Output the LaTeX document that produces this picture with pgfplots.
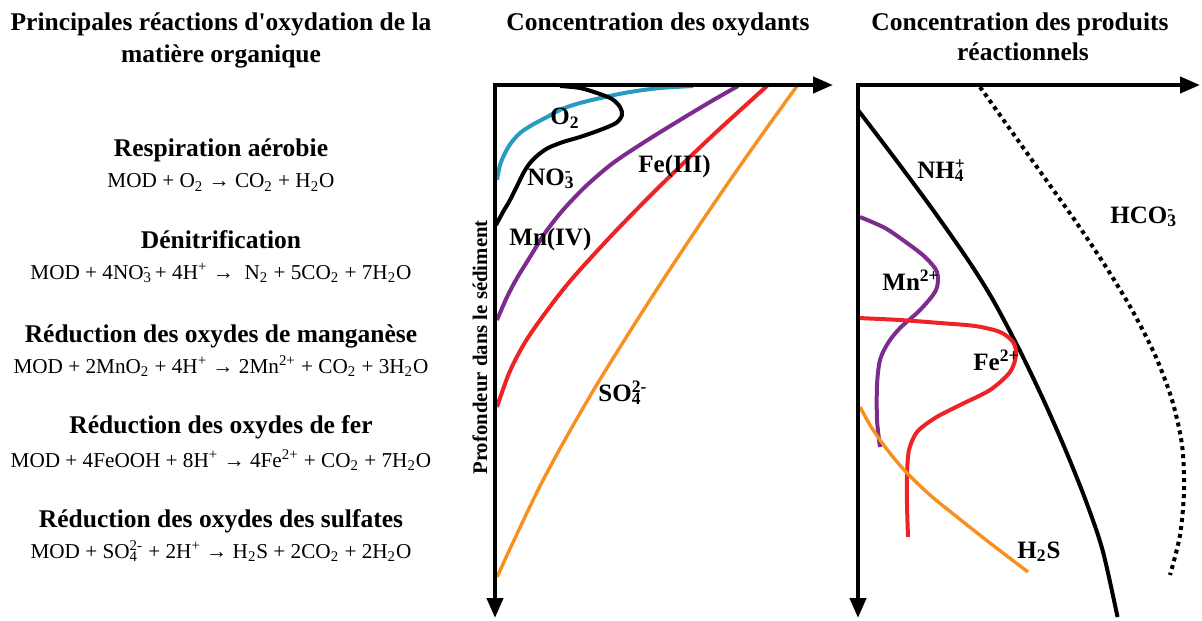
\documentclass[border=0pt]{standalone}
\usepackage{fontspec}
\setmainfont{Liberation Serif}
\usepackage{pgfplots}
\pgfplotsset{compat=1.18}
\usetikzlibrary{arrows.meta}
\definecolor{cBlue}{HTML}{2A9BC0}
\definecolor{cPurple}{HTML}{7B2C8C}
\definecolor{cRed}{HTML}{EE2326}
\definecolor{cOrange}{HTML}{F7901E}
\newcommand{\sub}[1]{\textsubscript{#1}}
\newcommand{\sups}[1]{\textsuperscript{#1}}
\newcommand{\sbsp}[2]{\rlap{\textsubscript{#1}}\textsuperscript{#2}}
\newcommand{\hfont}{\bfseries\fontsize{12.75}{15}\selectfont}
\newcommand{\efont}{\fontsize{10.6}{13}\selectfont}
\newcommand{\lfont}{\bfseries\fontsize{12.5}{15}\selectfont}
\tikzset{ax/.style={line width=2pt, line join=miter, {Triangle[length=10pt,width=8pt]}-{Triangle[length=10pt,width=8pt]}},
  crv/.style={smooth, line width=2pt, no markers}}
\begin{document}
\begin{tikzpicture}
\useasboundingbox (0,0) rectangle (601pt,-310pt);
% ---------- middle axis: oxidants ----------
\begin{axis}[at={(247.5pt,-309pt)}, anchor=south west, scale only axis,
  width=170pt, height=266.5pt, xmin=495, xmax=835, ymin=85, ymax=618,
  y dir=reverse, axis lines=none, clip=false]
\addplot[crv, cBlue] coordinates {(693,86) (660,88) (630,92) (605,97) (580,103) (562,109) (547,117) (532,125) (520,133) (511,143) (505,153) (500,165) (497,180)};
\addplot[crv, black] coordinates {(560,86) (580,88) (597,93) (612,99) (620,107) (622,115) (616,123) (600,130) (580,137) (563,142) (548,148) (538,155) (530,163) (524,172) (518,184) (510,200) (503,212) (496,225)};
\addplot[crv, cPurple] coordinates {(738,86) (710,102) (680,120) (646,141) (613,163) (586,186) (563,210) (545,233) (530,257) (517,278) (507,297) (497,320)};
\addplot[crv, cRed] coordinates {(767,86) (712,136) (660,186) (611,236) (566,286) (529,336) (510,371) (497,407)};
\addplot[crv, cOrange, line width=1.7pt] coordinates {(797,86) (761,136) (726,186) (692,236) (659,286) (627,336) (596,386) (567,436) (540,486) (516,536) (497,577)};
\draw[ax] (axis cs:833,85) -- (axis cs:495,85) -- (axis cs:495,618);
\end{axis}
% ---------- right axis: products ----------
\begin{axis}[at={(429pt,-309pt)}, anchor=south west, scale only axis,
  width=172pt, height=266.5pt, xmin=858, xmax=1202, ymin=85, ymax=618,
  y dir=reverse, axis lines=none, clip=false]
\addplot[crv, black] coordinates {(858,110) (896,160) (933,210) (968,260) (993,300) (1019.5,350) (1043.5,400) (1065.5,450) (1085.5,500) (1102.5,550) (1117.5,617)};
\addplot[crv, black, dash pattern=on 2pt off 2pt] coordinates {(980,87) (1012,132) (1044,177) (1076,222) (1106,267) (1132,310) (1155,355) (1172,400) (1182,445) (1184,490) (1180,535) (1170,575)};
\addplot[crv, cPurple] coordinates {(860,217) (885,228) (907,243) (925,257) (937,272) (936,290) (920,310) (900,328) (888,343) (880,360) (877,385) (877,420) (880,447)};
\addplot[crv, cRed] coordinates {(858,318) (900,320) (940,323) (975,326) (1000,332) (1013,342) (1016,355) (1010,372) (990,390) (960,405) (935,418) (917,432) (909,450) (907,475) (907,505) (908,537)};
\addplot[crv, cOrange, line width=1.7pt] coordinates {(860,407) (870,425) (880,440) (893,457) (907,473) (930,495) (957,517) (990,543) (1028,572)};
\draw[ax] (axis cs:1200,85) -- (axis cs:858,85) -- (axis cs:858,618);
\end{axis}
% ---------- texts ----------
\begin{scope}[x=0.5pt, y=-0.5pt]
\node[anchor=base, font=\hfont] at (221,31) {Principales réactions d\textquotesingle oxydation de la};
\node[anchor=base, font=\hfont] at (221,63) {matière organique};
\node[anchor=base, font=\hfont] at (221,157) {Respiration aérobie};
\node[anchor=base, font=\efont] at (221,188) {MOD + O\sub{2} → CO\sub{2} + H\sub{2}O};
\node[anchor=base, font=\hfont] at (221,248) {Dénitrification};
\node[anchor=base, font=\efont] at (221,279) {MOD + 4NO\sbsp{3}{-} + 4H\sups{+} →\ \ N\sub{2} + 5CO\sub{2} + 7H\sub{2}O};
\node[anchor=base, font=\hfont] at (221,342) {Réduction des oxydes de manganèse};
\node[anchor=base, font=\efont] at (221,373) {MOD + 2MnO\sub{2} + 4H\sups{+} → 2Mn\sups{2+} + CO\sub{2} + 3H\sub{2}O};
\node[anchor=base, font=\hfont] at (221,433) {Réduction des oxydes de fer};
\node[anchor=base, font=\efont] at (221,467) {MOD + 4FeOOH + 8H\sups{+} → 4Fe\sups{2+} + CO\sub{2} + 7H\sub{2}O};
\node[anchor=base, font=\hfont] at (221,527) {Réduction des oxydes des sulfates};
\node[anchor=base, font=\efont] at (221,558) {MOD + SO\sbsp{4}{2-} + 2H\sups{+} → H\sub{2}S + 2CO\sub{2} + 2H\sub{2}O};
% panel titles
\node[anchor=base, font=\hfont] at (658,31) {Concentration des oxydants};
\node[anchor=base, font=\hfont] at (1020,31) {Concentration des produits};
\node[anchor=base, font=\hfont] at (1023,61) {réactionnels};
% y label
\node[anchor=base west, rotate=90, inner sep=0pt, font=\bfseries\fontsize{10.4}{12}\selectfont] at (487,475) {Profondeur dans le sédiment};
% curve labels, middle
\node[anchor=base west, font=\lfont, inner sep=0pt] at (550,125) {O\sub{2}};
\node[anchor=base west, font=\lfont, inner sep=0pt] at (527,185) {NO\sbsp{3}{-}};
\node[anchor=base west, font=\lfont, inner sep=0pt] at (509,245) {Mn(IV)};
\node[anchor=base west, font=\lfont, inner sep=0pt] at (638,173) {Fe(III)};
\node[anchor=base west, font=\lfont, inner sep=0pt] at (598,401) {SO\sbsp{4}{2-}};
% curve labels, right
\node[anchor=base west, font=\lfont, inner sep=0pt] at (917,178) {NH\sbsp{4}{+}};
\node[anchor=base west, font=\lfont, inner sep=0pt] at (1110,223) {HCO\sbsp{3}{-}};
\node[anchor=base west, font=\lfont, inner sep=0pt] at (882,290) {Mn\sups{2+}};
\node[anchor=base west, font=\lfont, inner sep=0pt] at (973,370) {Fe\sups{2+}};
\node[anchor=base west, font=\lfont, inner sep=0pt] at (1017,558) {H\sub{2}S};
\end{scope}
\end{tikzpicture}
\end{document}
